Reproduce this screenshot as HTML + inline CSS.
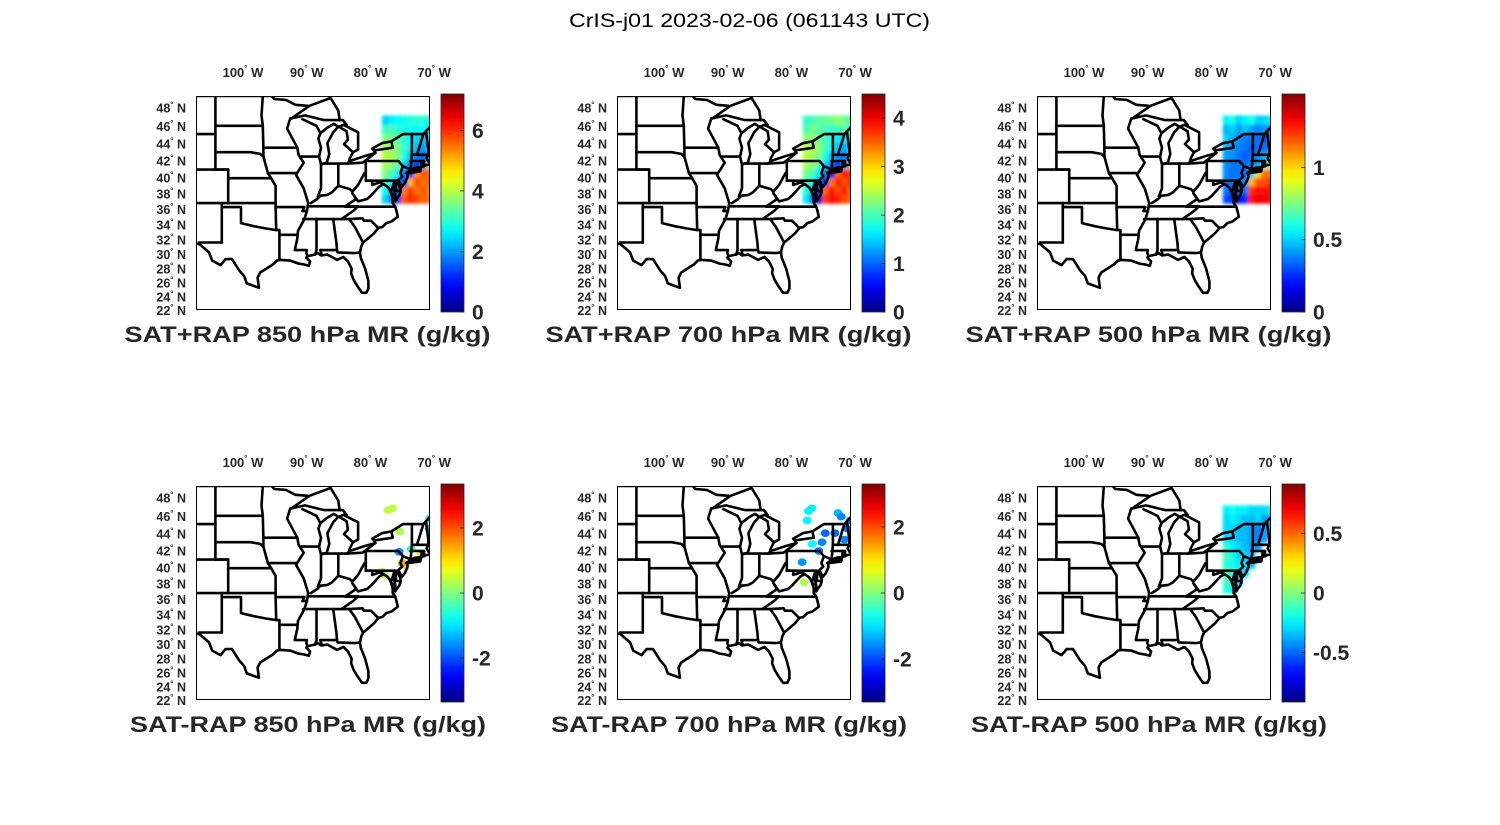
<!DOCTYPE html>
<html><head><meta charset="utf-8"><style>
html,body{margin:0;padding:0;background:#fff;width:1500px;height:825px;overflow:hidden}
svg text{font-family:"Liberation Sans",sans-serif}
</style></head><body>
<svg id="fig" width="1500" height="825" viewBox="0 0 1500 825" xmlns="http://www.w3.org/2000/svg">
<rect width="1500" height="825" fill="#fff"/>
<text x="749.5" y="27" text-anchor="middle" font-size="19" textLength="361" lengthAdjust="spacingAndGlyphs" fill="#000">CrIS-j01 2023-02-06 (061143 UTC)</text>
</svg>
<script>
// ---------- data ----------
const panelTitles = ["SAT+RAP 850 hPa MR (g/kg)","SAT+RAP 700 hPa MR (g/kg)","SAT+RAP 500 hPa MR (g/kg)",
  "SAT-RAP 850 hPa MR (g/kg)","SAT-RAP 700 hPa MR (g/kg)","SAT-RAP 500 hPa MR (g/kg)"];
const colorMin = [0,0,0,-3.35,-3.3,-0.917];
const colorMax = [7.2,4.5,1.507,3.35,3.3,0.917];
const cbTicks = [[0,2,4,6],[0,1,2,3,4],[0.5,1],[-2,0,2],[-2,0,2],[-0.5,0,0.5]];
const cbTickLabels = [["0","2","4","6"],["0","1","2","3","4"],["0.5","1"],["-2","0","2"],["-2","0","2"],["-0.5","0","0.5"]];
const cbExtraZero = [false,false,true,false,false,false];
const lonTicks = [-100,-90,-80,-70];
const lonTickLabels = ["100","90","80","70"];
const latTicks = [48,46,44,42,40,38,36,34,32,30,28,26,24,22];
const gridLons = [-77.5,-76.5,-75.5,-74.5,-73.5,-72.5,-71.5,-70.5];
const gridLats = [46.5,45.5,44.5,43.5,42.5,41.5,40.5,39.5,38.5,37.5];
const grid850 = [
[2.4,2.6,2.7,2.8,2.9,3.0,3.0,2.8],
[3.1,3.2,3.0,2.9,2.8,2.7,2.8,2.5],
[3.6,3.5,3.3,3.0,2.7,2.4,2.3,2.6],
[3.9,3.8,3.5,3.1,2.6,2.2,2.0,2.4],
[4.0,3.9,3.6,2.9,2.2,1.8,1.6,2.1],
[3.9,3.7,3.3,2.4,1.7,1.3,1.8,4.8],
[3.6,3.2,2.6,1.8,1.3,5.3,5.7,5.6],
[3.1,2.7,2.0,1.3,5.0,5.8,5.5,5.7],
[2.8,2.2,1.5,5.4,5.9,5.5,5.7,5.4],
[2.4,1.9,1.3,5.7,6.0,5.8,5.6,5.5]];
const grid700 = [
[1.9,2.0,2.1,2.1,2.2,2.3,2.2,2.0],
[2.0,2.2,2.1,2.0,1.9,2.0,2.1,1.8],
[2.3,2.3,2.2,2.0,1.8,1.6,1.6,1.8],
[2.5,2.4,2.3,2.0,1.7,1.4,1.3,1.6],
[2.5,2.4,2.2,1.8,1.4,1.2,1.1,1.5],
[2.4,2.3,2.0,1.5,1.1,0.8,1.3,3.2],
[2.2,2.0,1.6,1.1,0.7,3.5,3.8,3.7],
[2.0,1.7,1.2,0.7,3.4,3.8,3.6,3.7],
[1.8,1.4,0.8,3.5,3.9,3.6,3.8,3.5],
[1.6,1.1,0.5,3.7,3.9,3.8,3.6,3.5]];
const grid500 = [
[0.55,0.6,0.5,0.55,0.6,0.5,0.5,0.55],
[0.45,0.5,0.42,0.48,0.42,0.38,0.42,0.38],
[0.5,0.45,0.4,0.38,0.36,0.36,0.32,0.4],
[0.45,0.42,0.38,0.36,0.32,0.36,0.36,0.4],
[0.42,0.4,0.36,0.32,0.36,0.4,0.45,0.6],
[0.4,0.36,0.36,0.36,0.4,0.45,0.65,1.0],
[0.4,0.36,0.36,0.36,0.5,1.0,1.15,1.15],
[0.36,0.36,0.4,0.4,1.05,1.2,1.2,1.25],
[0.36,0.3,0.35,0.35,1.25,1.3,1.3,1.3],
[0.3,0.25,0.2,0.25,1.3,1.35,1.35,1.3]];
const gridDiff500 = [
[-0.25,-0.2,-0.25,-0.25,-0.3,-0.3,-0.3,-0.25],
[-0.3,-0.25,-0.3,-0.35,-0.35,-0.3,-0.4,-0.35],
[-0.3,-0.3,-0.35,-0.35,-0.4,-0.45,-0.4,-0.35],
[-0.3,-0.3,-0.35,-0.35,-0.4,-0.45,-0.4,null],
[-0.15,-0.25,-0.3,-0.35,-0.4,-0.4,null,null],
[-0.1,-0.2,-0.3,-0.3,-0.35,null,null,null],
[-0.15,-0.2,-0.25,-0.3,-0.35,null,null,null],
[-0.1,-0.15,-0.25,-0.3,null,null,null,null],
[-0.1,-0.2,-0.3,null,null,null,null,null],
[-0.15,-0.25,null,null,null,null,null,null]];
const diff850Lon = [-77.0,-76.3,-75.2,-70.5,-70.6,-75.3,-73.4,-71.8,-74.3,-78.0,-77.6,-74.8];
const diff850Lat = [46.5,46.7,44.2,45.6,44.5,41.9,42.2,41.6,40.3,39.6,39.2,40.6];
const diff850Val = [0.4,0.4,0.3,-1.0,-1.2,-1.6,-0.6,1.0,0.6,0.3,0.4,1.4];
const diff700Lon = [-77.1,-76.6,-77.3,-72.5,-72.0,-74.5,-75.0,-75.5,-73.0,-71.0,-70.6,-78.1,-77.8,-76.5,-71.5];
const diff700Lat = [46.4,46.7,45.4,46.2,45.8,44.0,43.0,42.0,44.0,44.5,45.4,40.7,38.3,42.8,43.3];
const diff700Val = [-0.9,-0.9,-0.9,-1.3,-1.6,-1.8,-1.6,-1.7,-1.8,-1.7,-1.5,-1.5,0.3,-0.8,-1.6];

// ---------- map geometry (lon,lat) ----------
const mapLines = [
[[-107.2,31.8],[-106.5,31.8],[-105,30.7],[-104.5,29.6],[-103.2,29],[-102.4,29.8],[-101.4,29.8],[-100.3,28.3],[-99.5,27.5],[-99.1,26.5],[-97.2,25.9],[-97.4,27.3],[-97,28],[-95,29.1],[-94.4,29.6],[-93.8,29.7],[-92.3,29.6],[-91,29.2],[-90.2,29.1],[-89.4,28.9],[-89.2,29.5],[-89.8,30],[-89.6,30.2],[-88.5,30.4],[-88,30.6],[-87.5,30.3],[-86.5,30.4],[-85.4,29.9],[-85,29.7],[-84,30.1],[-83.3,29.5],[-82.7,28.5],[-82.8,27.9],[-82.4,27],[-81.8,26.1],[-81.1,25.2],[-80.4,25.2],[-80.1,25.8],[-80.1,26.8],[-80.6,28.5],[-81.3,30],[-81.4,30.7],[-81.2,31.5],[-80.9,32],[-79.9,32.7],[-79.2,33.2],[-78.5,33.9],[-77.9,34],[-77.3,34.5],[-76.5,34.7],[-75.5,35.3],[-75.7,36],[-75.9,36.6],[-76.3,37],[-76.3,37.6],[-76.6,38.3],[-76.3,39],[-76.1,39.5],[-75.9,39.3],[-76.1,38.6],[-75.9,38],[-75.9,37.2],[-75.6,37.6],[-75.2,38],[-75.05,38.45],[-75.1,38.8],[-75.4,39.3],[-75.5,39.7],[-75.2,39.5],[-74.9,38.95],[-74.4,39.4],[-74,40.1],[-74,40.5],[-74.2,40.6],[-73.8,40.8],[-73.6,40.9],[-72.9,41.2],[-72,41.3],[-71.4,41.4],[-71.2,41.5],[-70.6,41.6],[-70,41.8],[-70.1,42],[-70.7,41.9],[-71,42.3],[-70.8,42.6],[-70.7,43.1],[-70.2,43.7],[-69,44.1],[-68,44.4],[-67,44.8]],
[[-73.9,40.6],[-72,40.8],[-71.9,41.1],[-73.7,40.9]],
[[-107.2,49],[-95.2,49],[-94.8,48.7],[-93,48.6],[-91.5,48.1],[-89.6,48]],
[[-92.1,46.7],[-90,47],[-87,46.5],[-84.6,46.5],[-84.8,47.5],[-86,48.8],[-89.3,48],[-92.1,46.7]],
[[-87.8,42.5],[-87.5,41.6],[-86.6,41.8],[-86.2,42.8],[-86.5,44],[-85.6,45.2],[-84.8,45.8],[-85.5,46.1],[-86.5,45.7],[-87.6,45.1],[-87.9,44.5],[-87.5,43.5],[-87.8,42.5]],
[[-84.7,45.8],[-83.5,45.3],[-83.3,44.4],[-83.9,43.9],[-82.5,43],[-81.7,43.3],[-81.7,45.2],[-84,46],[-84.7,45.8]],
[[-83.4,41.7],[-81,41.8],[-79,42.9],[-80.5,42.6],[-83,42],[-83.4,41.7]],
[[-79.2,43.2],[-76.3,43.5],[-76.5,44.2],[-78,44],[-79.5,43.4],[-79.2,43.2]],
[[-84.6,46.5],[-84.1,46.5],[-83.5,46]],[[-82.5,43],[-83,42.3],[-83.1,42]],[[-79,42.9],[-79.2,43.2]],
[[-76.5,44.2],[-74.7,45],[-71.5,45],[-71.1,45.3],[-70.3,45.9],[-70,46.7],[-69.2,47.4],[-68,47.3],[-67.8,47.1],[-67.8,45.7],[-67,44.8]],
[[-107.2,45],[-104,45]],[[-107.2,41],[-102,41]],[[-107.2,37],[-103,37]],[[-104,49],[-104,41]],[[-102,41],[-102,37]],
[[-103,37],[-103,32]],[[-106.6,32],[-103,32]],[[-104,45.9],[-96.6,45.9]],[[-104,43],[-98.5,43],[-97,42.8],[-96.5,42.5]],
[[-104,41],[-102,41]],[[-102,40],[-95.3,40]],[[-103,37],[-94.6,37]],[[-103,36.5],[-100,36.5],[-100,34.5],[-98,34.1],[-96,33.8],[-94.5,33.6]],
[[-96.6,49],[-96.8,47],[-96.6,45.9],[-96.5,43.5],[-96.5,42.5],[-95.8,40.6],[-95.3,40],[-94.6,39.1],[-94.6,36.5],[-94.5,33.6],[-94,33.6],[-94,29.7]],
[[-96.5,43.5],[-91.2,43.5]],[[-95.8,40.6],[-91.4,40.6]],[[-94.6,36.5],[-90.1,36.5],[-90.4,36],[-89.7,36]],[[-94,33],[-91.2,33]],
[[-92.1,46.7],[-92.3,46.7],[-92.8,45.6],[-91.2,43.5]],
[[-91.2,43.5],[-91,42.7],[-90.2,41.8],[-91.4,40.4],[-90.2,38.8],[-89.5,37],[-89.7,36],[-90.1,35],[-91.1,33.5],[-91.2,32.5],[-91.6,31],[-89.7,31],[-89.8,30.6],[-89.6,30.2]],
[[-90.6,42.5],[-87.8,42.5]],[[-90.4,46.6],[-88.2,45.9],[-87.6,45.1]],
[[-87.5,41.7],[-87.5,38.8],[-88,37.8]],
[[-89.1,37],[-88.1,37.5],[-87.6,37.9],[-86.5,38],[-85.8,38.3],[-84.8,39.1],[-83,38.7],[-82.6,38.4],[-81.7,39.2],[-80.7,40.6]],
[[-84.8,41.7],[-84.8,39.1]],[[-87.2,41.7],[-83.5,41.7]],[[-80.5,42],[-80.5,39.7],[-75.8,39.7]],
[[-80.5,39.7],[-79.5,39.7],[-79.5,39.2],[-78.3,39.5],[-77.7,39.3],[-78.4,39],[-79.6,38],[-80.3,37.5],[-81.7,37.2],[-82.6,38.2]],
[[-89.5,36.6],[-81.7,36.6]],[[-83.7,36.6],[-82,37.5],[-82.6,38.2]],[[-81.7,36.6],[-82.5,36],[-84.3,35]],
[[-90.3,35],[-83.1,35]],[[-83.7,36.55],[-75.9,36.55]],
[[-88.2,35],[-88.2,31],[-88.4,30.4]],[[-85.6,35],[-85.1,32],[-85,31]],[[-87.6,31],[-85,31]],[[-87.6,31],[-87.4,30.4]],
[[-85,31],[-84.9,30.7],[-82.2,30.6],[-81.5,30.7]],[[-83.1,35],[-82.2,34],[-81,32.1]],
[[-83.1,35],[-81,35.1],[-80.8,34.8],[-79.7,34.8],[-78.6,33.9]],
[[-77.7,39.3],[-77,38.9],[-76.3,38]],[[-75.8,39.7],[-75.8,38.5],[-75.05,38.45]],
[[-80.5,42],[-75.4,42],[-74.7,41.4],[-73.7,41.1]],[[-74.7,41.4],[-75.1,40.6],[-74.8,40.2],[-75.5,39.7]],
[[-73.3,45],[-73.3,42.7]],[[-73.3,42.7],[-73.5,41]],[[-73.5,42],[-71.4,42]],[[-72.5,42.7],[-71.5,45]],
[[-73.3,42.7],[-70.8,42.7]],[[-71.1,45.3],[-70.7,43.1]],[[-71.8,42],[-71.8,41.3]],[[-71.4,42],[-71.4,41.4]]
];

// ---------- helpers ----------
const NS = "http://www.w3.org/2000/svg";
const fig = document.getElementById('fig');
function el(tag, attrs, parent){const e=document.createElementNS(NS,tag);for(const k in attrs)e.setAttribute(k,attrs[k]);(parent||fig).appendChild(e);return e;}
function merc(lat){const p=lat*Math.PI/180;return Math.log(Math.tan(Math.PI/4+p/2));}
function xOf(lon){return 241+(lon+100)*6.4;}
function yOf(lat){return 96+372*(merc(49)-merc(lat));}
function latLabelY(lat){return 108+359*(merc(48)-merc(lat));}
function lonLabelX(lon){return 243+(lon+100)*6.37;}
function clamp(v){return Math.max(0,Math.min(1,v));}
function jet(t){t=clamp(t);const r=clamp(1.5-Math.abs(4*t-3)),g=clamp(1.5-Math.abs(4*t-2)),b=clamp(1.5-Math.abs(4*t-1));
  return "rgb("+Math.round(r*255)+","+Math.round(g*255)+","+Math.round(b*255)+")";}

const BX0=196,BX1=430,BY0=96,BY1=310;
const offsets=[[0,0],[421,0],[841,0],[0,390],[421,390],[841,390]];
const grids=[grid850,grid700,grid500,null,null,gridDiff500];
const ptsLon=[null,null,null,diff850Lon,diff700Lon,null];
const ptsLat=[null,null,null,diff850Lat,diff700Lat,null];
const ptsVal=[null,null,null,diff850Val,diff700Val,null];

const defs=el('defs',{});
const lg=el('linearGradient',{id:'jetg',x1:0,y1:1,x2:0,y2:0},defs);
for(let i=0;i<=20;i++){el('stop',{offset:(i/20),'stop-color':jet(i/20)},lg);}
const blur=el('filter',{id:'soft',x:'-5%',y:'-5%',width:'110%',height:'110%'},defs);
el('feGaussianBlur',{stdDeviation:1.6},blur);

offsets.forEach((o,pi)=>{
  const g=el('g',{transform:'translate('+o[0]+','+o[1]+')'});
  
  
  const cp=el('clipPath',{id:'clip'+pi},defs);
  el('rect',{x:BX0,y:BY0,width:BX1-BX0,height:BY1-BY0},cp);
  const inner=el('g',{'clip-path':'url(#clip'+pi+')'},g);
  const lo=colorMin[pi],hi=colorMax[pi];
  const grid=grids[pi];
  if(grid){
    const hg=el('g',{filter:'url(#soft)'},inner);
    
    
    grid.forEach((row,ri)=>{row.forEach((v,ci)=>{
      if(v===null)return;
      const x0=xOf(gridLons[ci]-0.5),x1=xOf(gridLons[ci]+0.5);
      const y0=yOf(gridLats[ri]+0.5),y1=yOf(gridLats[ri]-0.5);
      const r=el('rect',{x:x0,y:y0,width:x1-x0+0.6,height:y1-y0+0.6,fill:jet((v-lo)/(hi-lo))},hg);
      
      
    });});
  }
  if(ptsLon[pi]){
    ptsLon[pi].forEach((lon,k)=>{
      const c=el('ellipse',{cx:xOf(lon),cy:yOf(ptsLat[pi][k]),rx:4.5,ry:3.8,fill:jet((ptsVal[pi][k]-lo)/(hi-lo))},inner);
      
      
    });
  }
  const mg=el('g',{fill:'none',stroke:'#000','stroke-width':2.6,'stroke-linejoin':'round','stroke-linecap':'round'},inner);
  
  
  mapLines.forEach(line=>{
    el('path',{d:line.map((p,i)=>(i?'L':'M')+xOf(p[0]).toFixed(1)+' '+yOf(p[1]).toFixed(1)).join('')},mg);
  });
  const box=el('rect',{x:BX0+0.5,y:BY0+0.5,width:BX1-BX0-1,height:BY1-BY0-1,fill:'none',stroke:'#000','stroke-width':1},g);
  
  
  lonTicks.forEach((lon,k)=>{
    const t=el('text',{x:lonLabelX(lon),y:77,'text-anchor':'middle','font-size':13,'font-weight':'bold',fill:'#262626'},g);
    
    
    t.appendChild(document.createTextNode(lonTickLabels[k]));
    const s=el('tspan',{'font-size':8,dy:-6},t);s.textContent='°';
    const w=el('tspan',{dy:6},t);w.textContent=' W';
  });
  latTicks.forEach(lat=>{
    const t=el('text',{x:186,y:latLabelY(lat)+4.5,'text-anchor':'end','font-size':12.5,'font-weight':'bold',fill:'#262626'},g);
    
    
    t.appendChild(document.createTextNode(String(lat)));
    const s=el('tspan',{'font-size':8,dy:-5},t);s.textContent='°';
    const w=el('tspan',{dy:5},t);w.textContent=' N';
  });
  const CX=441,CW=23,CY0=94,CY1=312;
  const cb=el('rect',{x:CX,y:CY0,width:CW,height:CY1-CY0,fill:'url(#jetg)',stroke:'#262626','stroke-width':0.8},g);
  
  
  const ticks=cbTicks[pi].slice();const labs=cbTickLabels[pi].slice();
  if(cbExtraZero[pi]){ticks.unshift(0);labs.unshift("0");}
  ticks.forEach((v,k)=>{
    const y=CY1-(v-lo)/(hi-lo)*(CY1-CY0);
    el('line',{x1:CX+CW-4,x2:CX+CW,y1:y,y2:y,stroke:'#262626','stroke-width':0.8},g);
    const t=el('text',{x:CX+CW+8,y:y+7.5,'font-size':21,'font-weight':'bold',fill:'#262626'},g);
    
    
    t.textContent=labs[k];
  });
  const isDiff=pi>=3;
  const xl=el('text',{x:isDiff?308:307.5,y:342,'text-anchor':'middle','font-size':22,'font-weight':'bold',fill:'#262626',textLength:isDiff?356:366,lengthAdjust:'spacingAndGlyphs'},g);
  
  
  xl.textContent=panelTitles[pi];
});
</script>
</body></html>
